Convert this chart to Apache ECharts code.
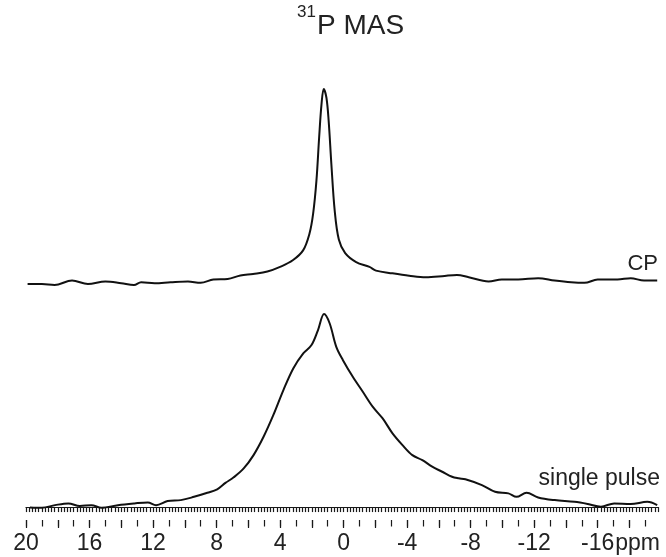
<!DOCTYPE html>
<html>
<head>
<meta charset="utf-8">
<script src="https://cdn.jsdelivr.net/npm/echarts@6.0.0/dist/echarts.min.js"></script>
<style>
  html, body { margin: 0; padding: 0; background: #fff; }
  #main { width: 666px; height: 557px; }
</style>
</head>
<body>
<div id="main"></div>
<script>
// CP spectrum, chemical shift (ppm) and intensity (peak = 100)
var cpPpm = [19.9, 19.0, 18.2, 17.1, 16.1, 15.0, 14.0, 13.2, 12.75, 11.9, 10.9, 9.8, 9.0, 8.2, 7.3, 6.5, 5.7, 4.8, 4.0, 3.2,
  2.55, 2.15, 1.92, 1.71, 1.54, 1.39, 1.25, 1.08, 0.94, 0.77, 0.56, 0.3, -0.1, -0.79, -1.63, -2.04, -3.08, -4.13, -5.17,
  -6.21, -7.14, -7.88, -9.13, -9.96, -11.0, -12.25, -13.29, -14.33, -15.17, -16.0, -17.25, -18.08, -18.92, -19.75];
var cpIntensity = [-0.4, -0.4, -0.9, 1.4, -0.4, 0.9, 0.0, -0.9, 0.5, 0.0, 0.5, 0.9, 0.2, 1.9, 2.2, 4.0, 4.8, 6.0, 8.4, 11.8,
  16.9, 25.5, 35.7, 52.8, 75.0, 92.2, 100, 95.5, 83.6, 61.4, 37.4, 22.5, 15.5, 10.9, 8.4, 6.5, 5.1, 3.9, 3.1,
  3.6, 4.3, 3.1, 0.9, 1.9, 1.9, 2.6, 1.4, 0.5, 0.2, 1.9, 1.9, 2.6, 1.4, 1.4];

// single pulse spectrum
var spPpm = [19.75, 19.0, 18.17, 17.33, 16.61, 15.88, 15.25, 14.21, 13.17, 12.33, 11.81, 11.08, 10.25, 9.42, 8.58, 7.96,
  7.44, 6.92, 6.29, 5.67, 5.04, 4.42, 3.79, 3.17, 2.54, 2.02, 1.61, 1.23, 0.88, 0.46, 0.04, -0.58, -1.21, -1.83, -2.46,
  -3.08, -3.71, -4.33, -4.96, -5.58, -6.21, -6.83, -7.25, -7.67, -8.71, -9.54, -10.38, -10.89, -11.52, -12.25, -13.29,
  -14.54, -15.38, -16.21, -17.04, -18.08, -19.13, -19.75];
var spIntensity = [-0.2, -0.4, 1.0, 1.9, 0.5, 1.0, -0.4, 1.0, 1.9, 2.4, 1.0, 3.1, 3.6, 5.3, 7.4, 9.2,
  12.5, 15.4, 20.0, 26.9, 36.4, 47.7, 60.6, 71.8, 79.6, 83.9, 91.7, 100, 95.2, 83.0, 76.1, 67.5, 59.7, 52.0, 45.9,
  38.2, 32.1, 26.9, 24.3, 20.9, 18.3, 15.7, 14.9, 14.4, 11.4, 7.9, 7.1, 5.3, 7.4, 5.0, 3.6,
  2.7, 1.6, 0.2, 1.9, 1.6, 2.7, 1.0];

var tickLabels = [20, 16, 12, 8, 4, 0, -4, -8, -12, -16];

var ppmMin = -19.8, ppmMax = 20;
var FONT = '"Liberation Sans", Arial, sans-serif';

function pairs(xs, ys) {
  var out = [];
  for (var i = 0; i < xs.length; i++) out.push([xs[i], ys[i]]);
  return out;
}

function ticksEvery(step) {
  var t = [];
  var n = Math.floor((ppmMax - ppmMin) / step + 1e-6);
  for (var k = 0; k <= n; k++) t.push(Math.round((ppmMax - k * step) * 10) / 10);
  return t;
}

var gridBox = { left: 26, width: 632 };
var tickLine = { color: '#1a1a1a', width: 1.2 };

function tickAxis(gridIndex, step, len) {
  return {
    type: 'value', gridIndex: gridIndex, min: ppmMin, max: ppmMax, inverse: true,
    axisLine: { show: false },
    axisTick: { show: true, customValues: ticksEvery(step), length: len, lineStyle: tickLine },
    axisLabel: { show: false },
    splitLine: { show: false }
  };
}

function hiddenY(gridIndex, min, max) {
  return { type: 'value', gridIndex: gridIndex, min: min, max: max, show: false, splitLine: { show: false } };
}

var option = {
  animation: false,
  backgroundColor: '#fff',
  grid: [
    { left: gridBox.left, width: gridBox.width, top: 89, height: 202 },
    { left: gridBox.left, width: gridBox.width, top: 314, height: 206 },
    { left: gridBox.left, width: gridBox.width, top: 314, height: 206 },
    { left: gridBox.left, width: gridBox.width, top: 314, height: 206 }
  ],
  xAxis: [
    { type: 'value', gridIndex: 0, min: ppmMin, max: ppmMax, inverse: true, show: false, splitLine: { show: false } },
    {
      type: 'value', gridIndex: 1, min: ppmMin, max: ppmMax, inverse: true,
      axisLine: { show: true, lineStyle: { color: '#1a1a1a', width: 1.2 } },
      axisTick: { show: true, customValues: ticksEvery(0.2), length: 5, lineStyle: tickLine },
      axisLabel: {
        customValues: tickLabels, margin: 12, fontSize: 23, fontFamily: FONT, color: '#222',
        showMinLabel: true, showMaxLabel: true
      },
      splitLine: { show: false }
    },
    tickAxis(2, 1, 6.5),
    tickAxis(3, 2, 8)
  ],
  yAxis: [
    hiddenY(0, -4, 100),
    hiddenY(1, -6.7, 100),
    hiddenY(2, 0, 1),
    hiddenY(3, 0, 1)
  ],
  series: [
    {
      name: 'CP', type: 'line', xAxisIndex: 0, yAxisIndex: 0,
      data: pairs(cpPpm, cpIntensity), showSymbol: false, symbol: 'none',
      smooth: 0.35, clip: false,
      lineStyle: { color: '#111', width: 2 }
    },
    {
      name: 'single pulse', type: 'line', xAxisIndex: 1, yAxisIndex: 1,
      data: pairs(spPpm, spIntensity), showSymbol: false, symbol: 'none',
      smooth: 0.35, clip: false,
      lineStyle: { color: '#111', width: 2 }
    }
  ],
  graphic: [
    { type: 'text', x: 316, y: 12, style: { text: '31', font: '17px ' + FONT, fill: '#222', align: 'right', verticalAlign: 'middle' } },
    { type: 'text', x: 317, y: 26, style: { text: 'P MAS', font: '28px ' + FONT, fill: '#222', align: 'left', verticalAlign: 'middle' } },
    { type: 'text', x: 658, y: 264, style: { text: 'CP', font: '22px ' + FONT, fill: '#222', align: 'right', verticalAlign: 'middle' } },
    { type: 'text', x: 660, y: 479, style: { text: 'single pulse', font: '23px ' + FONT, fill: '#222', align: 'right', verticalAlign: 'middle' } },
    { type: 'text', x: 660, y: 532, style: { text: 'ppm', font: '23px ' + FONT, fill: '#222', align: 'right', verticalAlign: 'top' } }
  ]
};

var chart = echarts.init(document.getElementById('main'), null, { renderer: 'canvas' });
chart.setOption(option);
</script>
</body>
</html>
